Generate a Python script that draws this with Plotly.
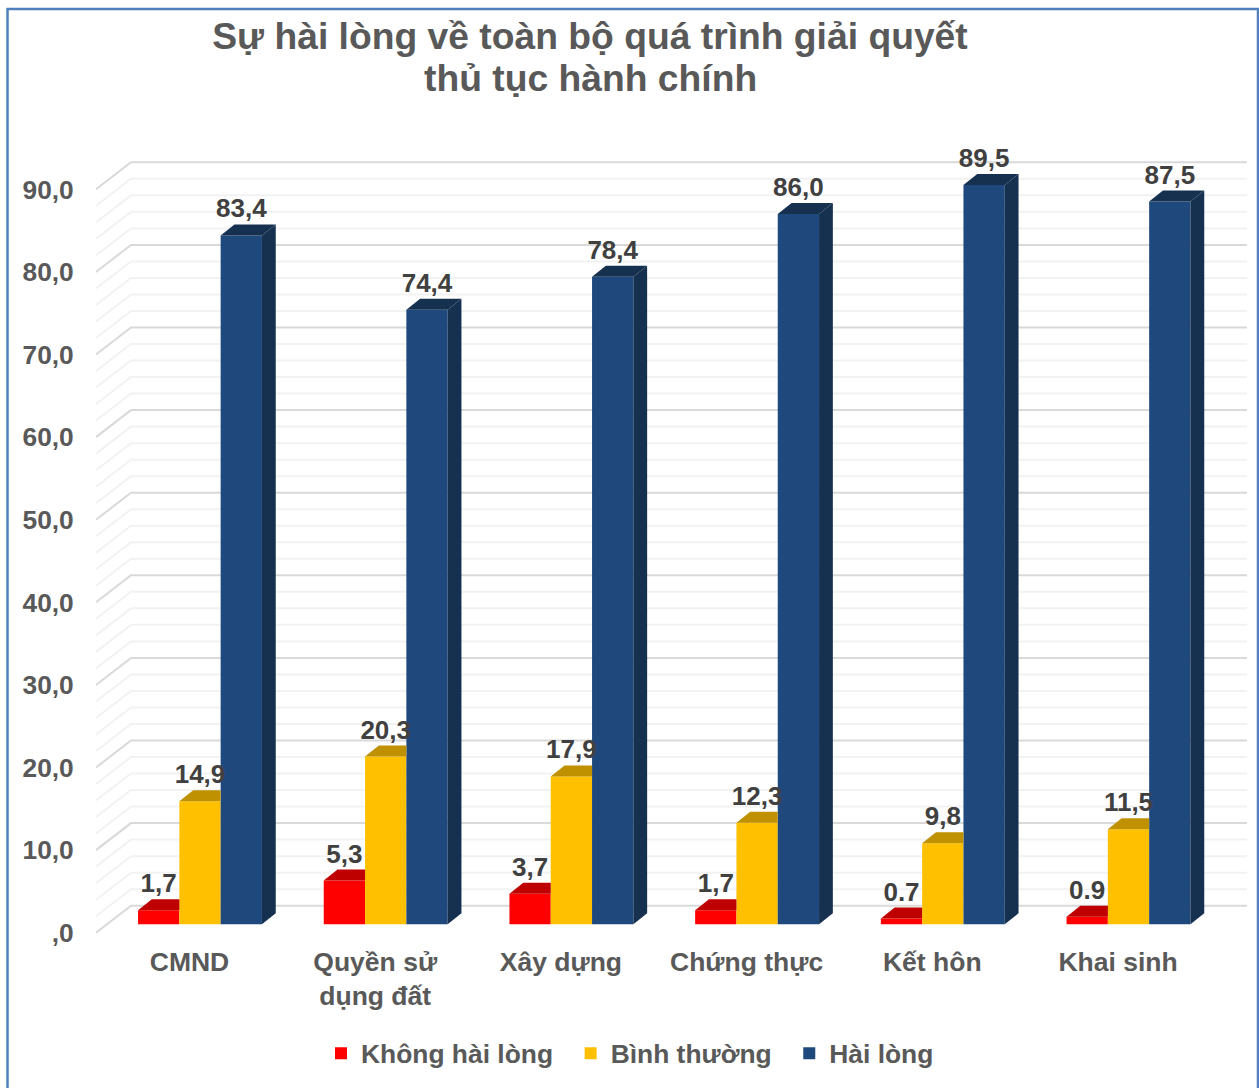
import plotly.graph_objects as go

# ---- data ----
categories = ["CMND", "Quyền sử<br>dụng đất", "Xây dựng", "Chứng thực", "Kết hôn", "Khai sinh"]
khong_hai_long = [1.7, 5.3, 3.7, 1.7, 0.7, 0.9]
binh_thuong = [14.9, 20.3, 17.9, 12.3, 9.8, 11.5]
hai_long = [83.4, 74.4, 78.4, 86.0, 89.5, 87.5]
khong_labels = ["1,7", "5,3", "3,7", "1,7", "0.7", "0.9"]
binh_labels = ["14,9", "20,3", "17,9", "12,3", "9,8", "11,5"]
hai_labels = ["83,4", "74,4", "78,4", "86,0", "89,5", "87,5"]
tick_values = [0, 10, 20, 30, 40, 50, 60, 70, 80, 90]
tick_labels = [",0", "10,0", "20,0", "30,0", "40,0", "50,0", "60,0", "70,0", "80,0", "90,0"]
minor_values = [v for v in range(0, 90, 2) if v % 10]

# ---- page geometry (pixels) ----
W, H = 1259, 1088
PL, PR, PT, PB = 96, 1247, 150, 940      # plot area
CAT0_PX, CAT_STEP = 189.5, 185.7         # first category label, category pitch
S = 8.26                                 # pixels per value unit
TICK0_PY, BAR0_PY = 932.7, 924.3         # pixel row of value 0: axis front, bar front
WALL_DX, WALL_DY = 35 / CAT_STEP, 27 / S # depth of the floor
BAR_DX, BAR_DY = 13.8 / CAT_STEP, 11 / S # depth of a column
BAR_W = 41.3 / CAT_STEP
GROUP_SHIFT = 10.5 / CAT_STEP

xr = [(PL - CAT0_PX) / CAT_STEP, (PR - CAT0_PX) / CAT_STEP]
y1r = [(TICK0_PY - PB) / S, (TICK0_PY - PT) / S]
y2r = [(BAR0_PY - PB) / S, (BAR0_PY - PT) / S]

RED, RED_D = "#FF0000", "#BF0000"
YEL, YEL_D = "#FFC000", "#BF9000"
BLU, BLU_D = "#1F497D", "#16304F"
GREY_TXT, DARK_TXT = "#595959", "#404040"
FONT = "Liberation Sans"

fig = go.Figure()

# gridlines: left wall + back wall (drawn on the main subplot, under the columns)
for vals, col in ((minor_values, "#F2F2F2"), (tick_values, "#D9D9D9")):
    xs, ys = [], []
    for v in vals:
        xs += [xr[0], xr[0] + WALL_DX, xr[1], None]
        ys += [v, v + WALL_DY, v + WALL_DY, None]
    fig.add_trace(go.Scatter(x=xs, y=ys, mode="lines", line=dict(color=col, width=2),
                             yaxis="y", showlegend=False, hoverinfo="skip"))

series = [
    ("Không hài lòng", khong_hai_long, khong_labels, RED, RED_D, -1),
    ("Bình thường", binh_thuong, binh_labels, YEL, YEL_D, 0),
    ("Hài lòng", hai_long, hai_labels, BLU, BLU_D, 1),
]
n = range(len(categories))
front = [i + GROUP_SHIFT for i in n]

# front faces (the trailing spaces widen the legend entry)
for name, vals, _, col, _, _ in series:
    fig.add_trace(go.Bar(x=front, y=vals, name=name + "\u00a0\u2009", marker=dict(color=col, line=dict(width=0)),
                         yaxis="y2", hovertemplate="%{y}<extra>" + name + "</extra>"))

# top and side faces
for name, vals, _, col, dark, pos in series:
    for i, v in zip(n, vals):
        x0 = front[i] + (pos - 0.5) * BAR_W
        x1 = x0 + BAR_W
        top_right = x1 + BAR_DX if pos == 1 else x1
        fig.add_trace(go.Scatter(x=[x0, x0 + BAR_DX, top_right, x1, x0],
                                 y=[v, v + BAR_DY, v + BAR_DY, v, v],
                                 mode="lines", fill="toself", fillcolor=dark, line=dict(width=0),
                                 yaxis="y2", showlegend=False, hoverinfo="skip"))
        if pos == 1:
            fig.add_trace(go.Scatter(x=[x1, x1 + BAR_DX, x1 + BAR_DX, x1, x1],
                                     y=[0, BAR_DY, v + BAR_DY, v, 0],
                                     mode="lines", fill="toself", fillcolor=dark, line=dict(width=0),
                                     yaxis="y2", showlegend=False, hoverinfo="skip"))

# value labels
LABEL_LIFT = 24.5 / S
for name, vals, labels, _, _, pos in series:
    fig.add_trace(go.Scatter(x=[f + pos * BAR_W for f in front], y=[v + LABEL_LIFT for v in vals],
                             mode="text", text=labels, textposition="middle center", cliponaxis=False,
                             textfont=dict(family=FONT, size=26, color=DARK_TXT, weight="bold"),
                             yaxis="y2", showlegend=False, hoverinfo="skip"))

pw, ph = PR - PL, PB - PT
def px(x): return (x - PL) / pw
def py(y): return (PB - y) / ph

fig.update_layout(
    width=W, height=H, autosize=False,
    margin=dict(l=PL, r=W - PR, t=PT, b=H - PB, autoexpand=False),
    paper_bgcolor="white", plot_bgcolor="rgba(0,0,0,0)",
    barmode="group", bargap=1 - 3 * BAR_W, bargroupgap=0,
    font=dict(family=FONT, color=GREY_TXT),
    title=dict(text="<b>Sự hài lòng về toàn bộ quá trình giải quyết</b>", x=590 / W, xanchor="center",
               y=1 - 36 / H, yanchor="middle", yref="container",
               font=dict(family=FONT, size=37.25, color=GREY_TXT)),
    annotations=[dict(text="<b>thủ tục hành chính</b>", xref="paper", yref="paper",
                      x=px(590), y=py(78), xanchor="center", yanchor="middle", showarrow=False,
                      font=dict(family=FONT, size=37.25, color=GREY_TXT))],
    xaxis=dict(range=xr, tickmode="array", tickvals=list(n), ticktext=[f"<b>{c}</b>" for c in categories],
               tickfont=dict(family=FONT, size=26.5, color=GREY_TXT), showgrid=False, zeroline=False,
               showline=False, ticks="", tickangle=0, ticklabelstandoff=3),
    yaxis=dict(range=y1r, tickmode="array", tickvals=tick_values, ticktext=[f"<b>{t}</b>" for t in tick_labels],
               tickfont=dict(family=FONT, size=26.3, color=GREY_TXT), showgrid=False, zeroline=False,
               showline=False, ticks="outside", ticklen=16, tickcolor="rgba(0,0,0,0)"),
    yaxis2=dict(range=y2r, overlaying="y", visible=False, showgrid=False, zeroline=False),
    legend=dict(orientation="h", x=px(636), y=py(1053.5), xanchor="center", yanchor="middle",
                font=dict(family=FONT, size=26.4, color=GREY_TXT, weight="bold"),
                bgcolor="rgba(0,0,0,0)", itemclick=False, itemdoubleclick=False),
    shapes=[dict(type="path", xref="paper", yref="paper", layer="above",
                 path=f"M{px(7.5)},{py(1095)} L{px(7.5)},{py(9)} L{px(1258)},{py(9)} L{px(1258)},{py(1095)}",
                 line=dict(color="#4F81BD", width=2.5))],
)

fig.write_html("out.html", config={"displayModeBar": False},
               post_script="document.body.style.margin='0';document.body.style.overflow='hidden';")
